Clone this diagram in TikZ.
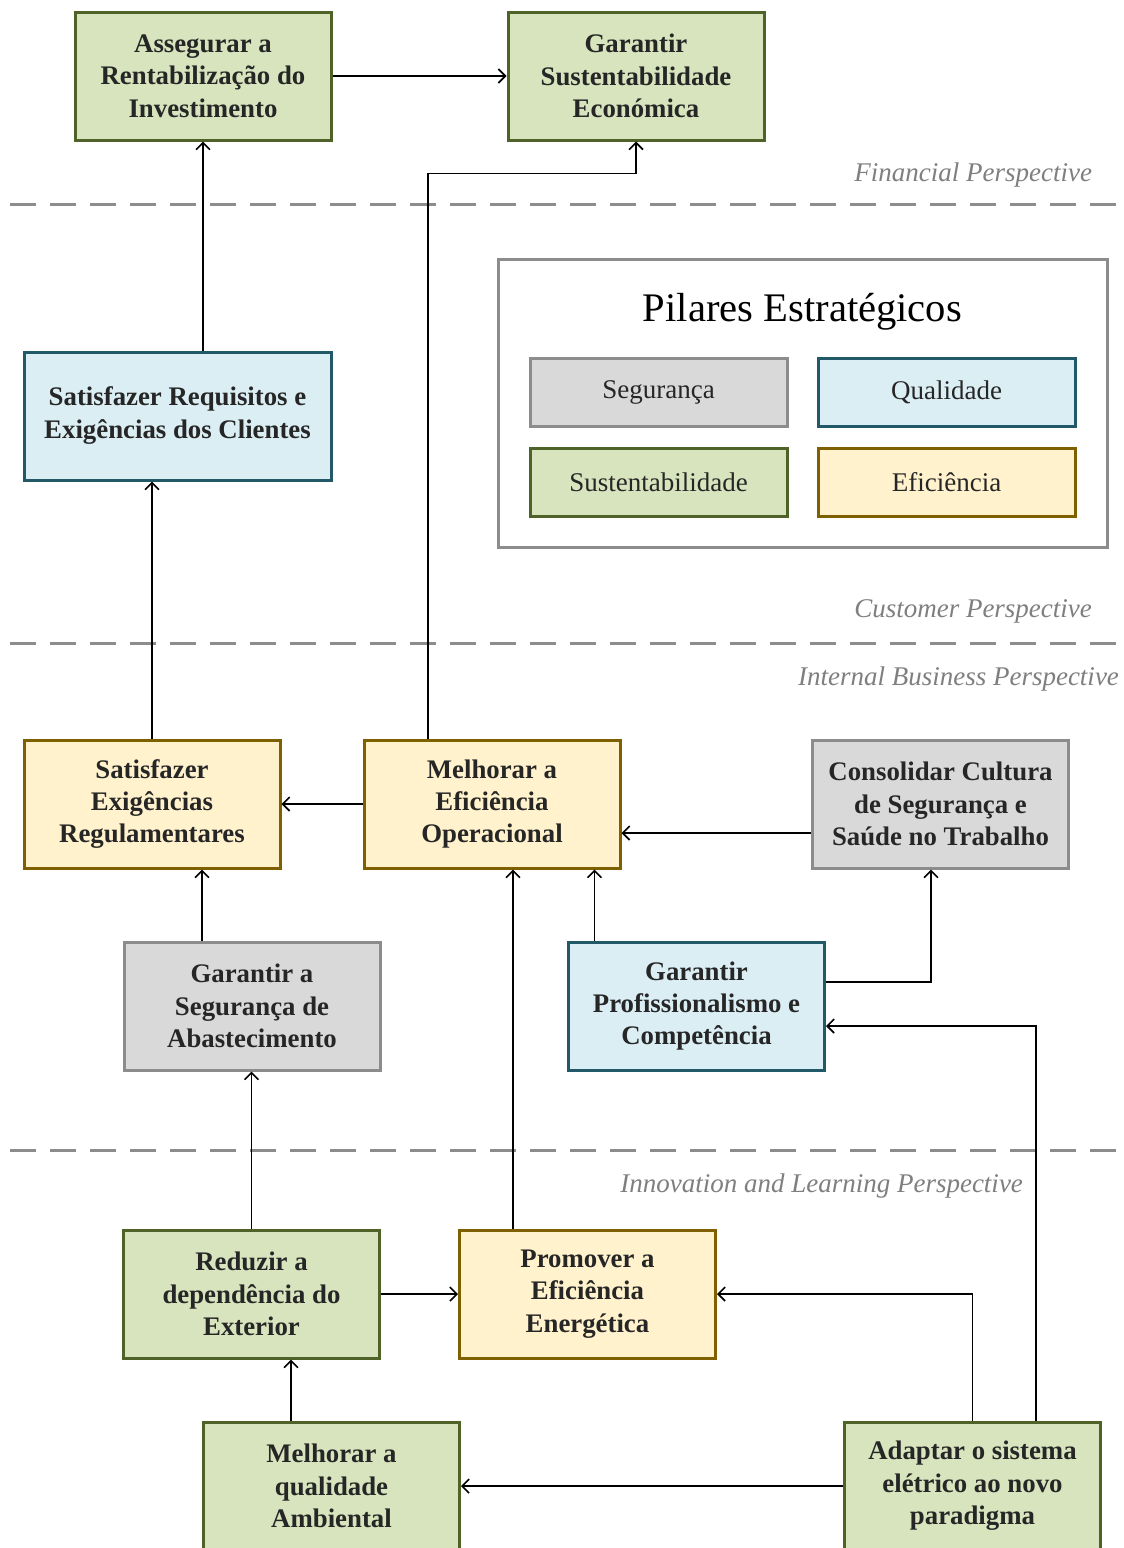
\documentclass[tikz,border=0pt]{standalone}
\usepackage{fontspec}
\setmainfont{Liberation Serif}
\usetikzlibrary{arrows.meta}
\definecolor{gfill}{HTML}{D7E4BD}\definecolor{gdraw}{HTML}{4F6228}
\definecolor{bfill}{HTML}{DBEEF4}\definecolor{bdraw}{HTML}{215968}
\definecolor{yfill}{HTML}{FFF2CC}\definecolor{ydraw}{HTML}{7F6000}
\definecolor{sfill}{HTML}{D9D9D9}\definecolor{sdraw}{HTML}{8C8C8C}
\definecolor{txt}{HTML}{262626}
\definecolor{lbl}{HTML}{7F7F7F}
\tikzset{
  obj/.style={draw, line width=1.5pt, minimum width=128pt, minimum height=64pt, inner sep=0pt,
    align=center, text=txt, font=\fontsize{13.4}{16.2}\selectfont\bfseries},
  grn/.style={obj, fill=gfill, draw=gdraw},
  blu/.style={obj, fill=bfill, draw=bdraw},
  yel/.style={obj, fill=yfill, draw=ydraw},
  gry/.style={obj, fill=sfill, draw=sdraw},
  leg/.style={draw, line width=1.5pt, minimum width=128.5pt, minimum height=34pt, inner sep=0pt,
    text=txt, font=\fontsize{13.5}{16}\selectfont},
  persp/.style={anchor=east, text=lbl, font=\fontsize{13.5}{16}\selectfont\itshape},
  sep/.style={draw=sdraw, line width=1.5pt, dash pattern=on 13pt off 7pt},
  conn/.style={line width=0.8pt, -{Straight Barb[length=3.5pt,width=7pt]}},
}
\begin{document}
\begin{tikzpicture}[x=0.5pt,y=-0.5pt]
\useasboundingbox[fill=white] (0,0) rectangle (1124,1548);
% separators
\coordinate (s1l) at (10,204); \coordinate (s1r) at (1124,204);
\coordinate (s2l) at (10,643); \coordinate (s2r) at (1124,643);
\coordinate (s3l) at (10,1150); \coordinate (s3r) at (1124,1150);
\draw[sep] (s1l) -- (s1r);
\draw[sep] (s2l) -- (s2r);
\draw[sep] (s3l) -- (s3r);
% perspective labels
\node[persp] (lf) at (1099,175) {Financial Perspective};
\node[persp] (lc) at (1099,611) {Customer Perspective};
\node[persp] (li) at (1126,679) {Internal Business Perspective};
\node[persp] (ll) at (1030,1186) {Innovation and Learning Perspective};
% legend
\node[draw=sdraw, line width=1.5pt, minimum width=304.5pt, minimum height=144pt, inner sep=0pt] (legbox) at (802.5,403) {};
\node[text=black, font=\fontsize{20.3}{24}\selectfont] (legt) at (802.5,312) {Pilares Estratégicos};
\node[leg, fill=sfill, draw=sdraw] (lseg) at (658.5,392) {\raisebox{-1pt}{Segurança}};
\node[leg, fill=bfill, draw=bdraw] (lqua) at (946.5,392) {\raisebox{-1pt}{Qualidade}};
\node[leg, fill=gfill, draw=gdraw] (lsus) at (658.5,482) {Sustentabilidade};
\node[leg, fill=yfill, draw=ydraw] (lefi) at (946.5,482) {Eficiência};
% objectives
\node[grn] (ass) at (203,76) {Assegurar a\\Rentabilização do\\Investimento};
\node[grn] (gse) at (636,76) {Garantir\\Sustentabilidade\\Económica};
\node[blu, minimum width=153.5pt, font=\fontsize{13.4}{16.5}\selectfont\bfseries] (sreq) at (177.5,416) {Satisfazer Requisitos e\\Exigências dos Clientes};
\node[yel] (sex) at (152,804) {Satisfazer\\Exigências\\Regulamentares};
\node[yel] (meo) at (492,804) {Melhorar a\\Eficiência\\Operacional};
\node[gry] (con) at (940.5,804) {Consolidar Cultura\\de Segurança e\\Saúde no Trabalho};
\node[gry] (gsa) at (252,1006) {Garantir a\\Segurança de\\Abastecimento};
\node[blu] (gpr) at (696.5,1006) {Garantir\\Profissionalismo e\\Competência};
\node[grn] (red) at (251.5,1294) {Reduzir a\\dependência do\\Exterior};
\node[yel] (pro) at (587.5,1294) {Promover a\\Eficiência\\Energética};
\node[grn] (mqa) at (331.5,1486) {Melhorar a\\qualidade\\Ambiental};
\node[grn] (ada) at (972.5,1486) {Adaptar o sistema\\elétrico ao novo\\paradigma};
% connectors
\draw[conn] (ass.east) -- (gse.west);
\coordinate (c2) at ([xshift=12.75pt]sreq.north);
\draw[conn] (c2) -- (c2 |- ass.south);
\coordinate (c3) at ([xshift=-32pt]meo.north);
\coordinate (c3b) at ([yshift=-16pt]gse.south);
\draw[conn] (c3) |- (c3b) -- (gse.south);
\coordinate (c4) at ([xshift=-12.75pt]sreq.south);
\draw[conn] (sex.north) -- (sex.north |- c4);
\draw[conn] (meo.west) -- (sex.east);
\coordinate (c6) at ([yshift=-14.5pt]con.west);
\draw[conn] (c6) -- (c6 -| meo.east);
\coordinate (c7) at ([xshift=-25pt]gsa.north);
\draw[conn] (c7) -- (c7 |- sex.south);
\coordinate (c8) at ([xshift=-51pt]gpr.north);
\draw[conn] (c8) -- (c8 |- meo.south);
\coordinate (c9) at ([yshift=12pt]gpr.east);
\coordinate (c9b) at ([xshift=-4.75pt]con.south);
\draw[conn] (c9) -| (c9b);
\draw[conn] (red.north) -- (red.north |- gsa.south);
\draw[conn] (red.east) -- (pro.west);
\coordinate (c12) at ([xshift=-37.25pt]pro.north);
\draw[conn] (c12) -- (c12 |- meo.south);
\coordinate (c13) at ([xshift=-20.25pt]mqa.north);
\draw[conn] (c13) -- (c13 |- red.south);
\draw[conn] (ada.west) -- (mqa.east);
\draw[conn] (ada.north) |- (pro.east);
\coordinate (c16) at ([xshift=31.75pt]ada.north);
\coordinate (c16b) at ([yshift=-10pt]gpr.east);
\draw[conn] (c16) |- (c16b);
\end{tikzpicture}
\end{document}
